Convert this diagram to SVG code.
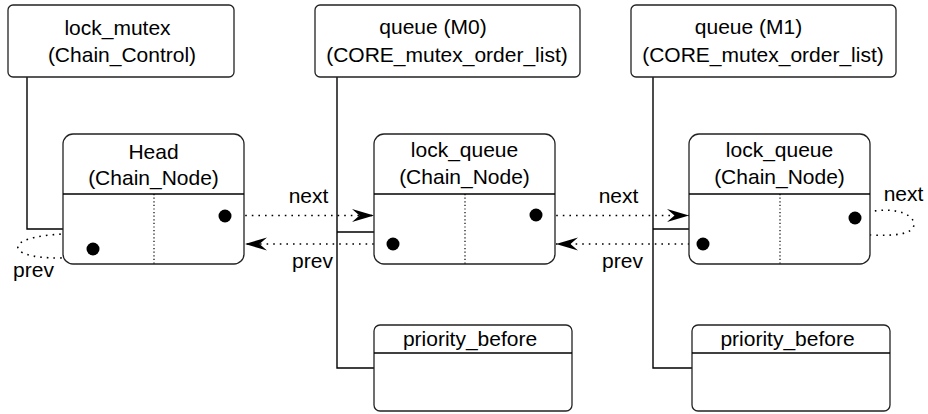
<svg xmlns="http://www.w3.org/2000/svg" width="928" height="414" viewBox="0 0 928 414">
<defs>
<style>
text{font-family:"Liberation Sans",Arial,sans-serif;font-size:21px;fill:#000;text-anchor:middle}
.box{fill:#fff;stroke:#222;stroke-width:1.3}
.ln{fill:none;stroke:#000;stroke-width:1.4}
.div{fill:none;stroke:#000;stroke-width:1.2;stroke-dasharray:1.2 2.4}
.ptr{fill:none;stroke:#000;stroke-width:1.6;stroke-dasharray:1.6 5}
.dot{fill:#000}
</style>
<marker id="ah" markerUnits="userSpaceOnUse" markerWidth="26" markerHeight="16" viewBox="-24 -8 26 16" refX="0" refY="0" orient="auto">
<path d="M0,0 L-22,-6.5 L-14.5,0 L-22,6.5 Z" fill="#000"/>
</marker>
</defs>
<g id="connectors">
<path class="ln" d="M27,77 V229 H63"/>
<path class="ln" d="M337,77 V368 H374 M337,232 H374"/>
<path class="ln" d="M653,77 V368 H692 M653,229 H689"/>
<path class="ptr" d="M232,215.5 H374" marker-end="url(#ah)"/>
<path class="ptr" d="M387,244 H245" marker-end="url(#ah)"/>
<path class="ptr" d="M543,215.5 H689" marker-end="url(#ah)"/>
<path class="ptr" d="M696,244 H556" marker-end="url(#ah)"/>
<path class="ptr" d="M87,251 C75,256 68,258 58,258 C32,258 16,253 18,246 C21,238 45,235 63,234"/>
<path class="ptr" d="M862,214 C885,206 913,211 914,224 C914,235 892,236 870,235"/>
<text x="308.5" y="203">next</text>
<text x="312.5" y="268">prev</text>
<text x="618.5" y="203">next</text>
<text x="622.5" y="268">prev</text>
<text x="33.5" y="277">prev</text>
<text x="903.5" y="201">next</text>
</g>
<g id="lock_mutex">
<rect class="box" x="8" y="5" width="226" height="72" rx="5"/>
<text x="117.5" y="35">lock_mutex</text>
<text x="122" y="62">(Chain_Control)</text>
</g>
<g id="queue_m0">
<rect class="box" x="315" y="5" width="265" height="72" rx="5"/>
<text x="433" y="34">queue (M0)</text>
<text x="447" y="62">(CORE_mutex_order_list)</text>
</g>
<g id="queue_m1">
<rect class="box" x="631" y="5" width="265" height="72" rx="5"/>
<text x="748.5" y="34">queue (M1)</text>
<text x="763" y="62">(CORE_mutex_order_list)</text>
</g>
<g id="head">
<rect class="box" x="63" y="134" width="181" height="130" rx="10"/>
<path class="ln" d="M63,194 H244"/>
<path class="div" d="M154,194 V264"/>
<text x="153.5" y="159">Head</text>
<text x="153.5" y="185">(Chain_Node)</text>
<circle class="dot" cx="225" cy="216" r="6.5"/>
<circle class="dot" cx="93" cy="249" r="6.5"/>
</g>
<g id="lock_queue_m0">
<rect class="box" x="374" y="134" width="181" height="130" rx="10"/>
<path class="ln" d="M374,194 H555"/>
<path class="div" d="M465,194 V264"/>
<text x="464.5" y="157">lock_queue</text>
<text x="464.5" y="184">(Chain_Node)</text>
<circle class="dot" cx="536" cy="215" r="6.5"/>
<circle class="dot" cx="393" cy="244" r="6.5"/>
</g>
<g id="lock_queue_m1">
<rect class="box" x="689" y="134" width="181" height="130" rx="10"/>
<path class="ln" d="M689,194 H870"/>
<path class="div" d="M780,194 V264"/>
<text x="779.5" y="157">lock_queue</text>
<text x="779.5" y="184">(Chain_Node)</text>
<circle class="dot" cx="855" cy="218" r="6.5"/>
<circle class="dot" cx="703" cy="244" r="6.5"/>
</g>
<g id="priority_before_m0">
<rect class="box" x="374" y="325" width="198" height="86" rx="6"/>
<path class="ln" d="M374,353 H572"/>
<text x="470" y="346">priority_before</text>
</g>
<g id="priority_before_m1">
<rect class="box" x="692" y="325" width="198" height="86" rx="6"/>
<path class="ln" d="M692,353 H890"/>
<text x="787.5" y="346">priority_before</text>
</g>
</svg>
